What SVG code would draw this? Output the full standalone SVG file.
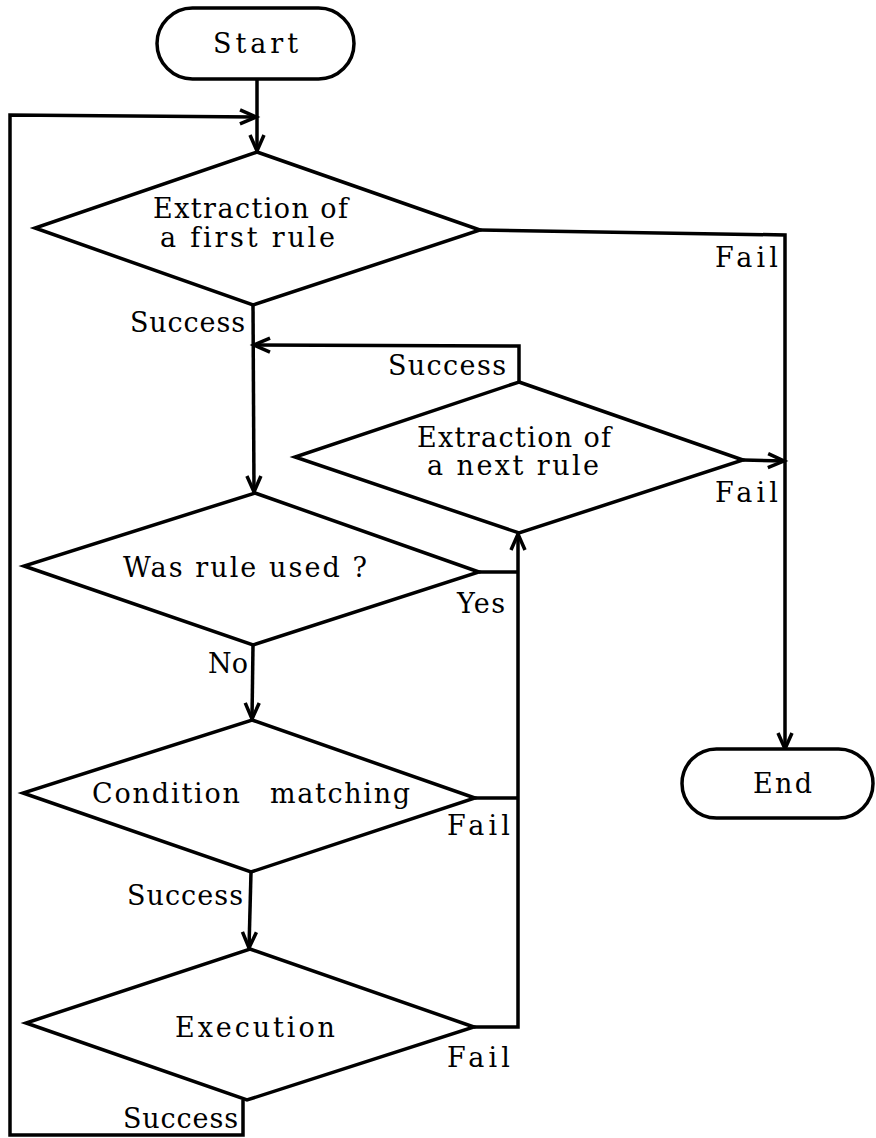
<svg xmlns="http://www.w3.org/2000/svg" width="876" height="1138" viewBox="0 0 876 1138">
  <style>
    .shape { fill: #fff; stroke: #000; stroke-width: 3.5; stroke-linejoin: miter; }
    .wire { fill: none; stroke: #000; stroke-width: 3.5; stroke-linejoin: miter; }
    .arrow { marker-end: url(#head); }
    text { font-family: "DejaVu Serif", "Liberation Serif", serif; font-size: 27px; fill: #000; font-variant-ligatures: none; }
  </style>
  <defs>
    <marker id="head" markerUnits="userSpaceOnUse" markerWidth="20" markerHeight="18" refX="17" refY="8" orient="auto" overflow="visible">
      <path d="M1,1 L17,8 L1,15" fill="none" stroke="#000" stroke-width="3.5" stroke-linejoin="miter"/>
    </marker>
  </defs>
  <rect width="876" height="1138" fill="#fff"/>

  <g id="connectors">
    <!-- Start to first extraction -->
    <path class="wire arrow" d="M257,80 L257,151"/>
    <!-- loop back from execution success -->
    <path class="wire arrow" d="M243,1100 L243,1135 L10,1135 L10,115 L256,117"/>
    <!-- first extraction fails -->
    <path class="wire arrow" d="M480,230 L785,235 L785,749"/>
    <!-- first extraction succeeds -->
    <path class="wire arrow" d="M253,305 L254,492"/>
    <!-- next extraction succeeds -->
    <path class="wire arrow" d="M519,382 L519,346 L254,345"/>
    <!-- next extraction fails -->
    <path class="wire arrow" d="M743,460 L784,461"/>
    <!-- rule already used -->
    <path class="wire" d="M479,572 L518,572"/>
    <!-- condition fails -->
    <path class="wire" d="M475,798 L518,798"/>
    <!-- execution fails, back to next extraction -->
    <path class="wire arrow" d="M474,1027 L518,1027 L518,534"/>
    <!-- rule not used -->
    <path class="wire arrow" d="M253,645 L252,719"/>
    <!-- condition matched -->
    <path class="wire arrow" d="M251,872 L249,948"/>
  </g>

  <g id="start">
    <rect class="shape" x="157" y="8" width="197" height="71" rx="35.5" ry="35.5"/>
    <text x="213" y="53" textLength="85" lengthAdjust="spacing">Start</text>
  </g>

  <g id="first-rule">
    <polygon class="shape" points="257,152 480,230 253,305 35,228"/>
    <text x="153" y="218" textLength="195" lengthAdjust="spacing">Extraction of</text>
    <text x="160" y="247" textLength="175" lengthAdjust="spacing">a first rule</text>
  </g>

  <g id="next-rule">
    <polygon class="shape" points="519,382 743,460 519,533 295,457"/>
    <text x="417" y="447" textLength="194" lengthAdjust="spacing">Extraction of</text>
    <text x="427" y="475" textLength="172" lengthAdjust="spacing">a next rule</text>
  </g>

  <g id="rule-used">
    <polygon class="shape" points="255,493 479,572 253,645 24,566"/>
    <text x="123" y="577" textLength="244" lengthAdjust="spacing">Was rule used ?</text>
  </g>

  <g id="condition">
    <polygon class="shape" points="252,720 475,798 251,872 23,793"/>
    <text y="803"><tspan x="92" textLength="148" lengthAdjust="spacing">Condition</tspan> <tspan x="270" textLength="140" lengthAdjust="spacing">matching</tspan></text>
  </g>

  <g id="execution">
    <polygon class="shape" points="250,949 474,1027 247,1100 26,1023"/>
    <text x="175" y="1037" textLength="160" lengthAdjust="spacing">Execution</text>
  </g>

  <g id="end">
    <rect class="shape" x="682" y="749" width="191" height="69" rx="34.5" ry="34.5"/>
    <text x="753" y="793" textLength="59" lengthAdjust="spacing">End</text>
  </g>

  <g id="labels">
    <text x="715" y="267" textLength="63" lengthAdjust="spacing">Fail</text>
    <text x="130" y="332" textLength="115" lengthAdjust="spacing">Success</text>
    <text x="388" y="375" textLength="118" lengthAdjust="spacing">Success</text>
    <text x="715" y="502" textLength="63" lengthAdjust="spacing">Fail</text>
    <text x="457" y="613" textLength="48" lengthAdjust="spacing">Yes</text>
    <text x="208" y="673">No</text>
    <text x="447" y="835" textLength="63" lengthAdjust="spacing">Fail</text>
    <text x="127" y="905" textLength="116" lengthAdjust="spacing">Success</text>
    <text x="447" y="1067" textLength="63" lengthAdjust="spacing">Fail</text>
    <text x="123" y="1128" textLength="115" lengthAdjust="spacing">Success</text>
  </g>
</svg>
